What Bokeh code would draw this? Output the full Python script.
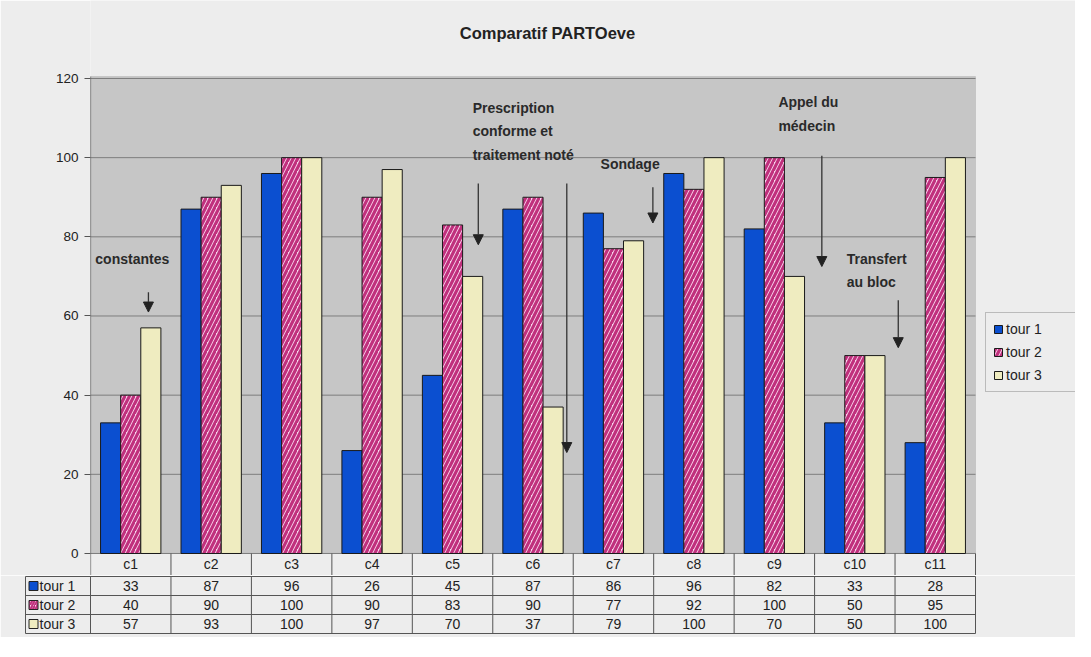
import numpy as np
from bokeh.plotting import figure
from bokeh.models import (Range1d, FixedTicker, BoxAnnotation, Legend, LegendItem,
                          Arrow, NormalHead, ColumnDataSource)
from bokeh.layouts import column
from bokeh.core.properties import value
from bokeh.embed import file_html
from bokeh.resources import INLINE

# ---------------- data ----------------
title_text = "Comparatif PARTOeve"
categories = ["c1", "c2", "c3", "c4", "c5", "c6", "c7", "c8", "c9", "c10", "c11"]
series_names = ["tour 1", "tour 2", "tour 3"]
tour1 = [33, 87, 96, 26, 45, 87, 86, 96, 82, 33, 28]
tour2 = [40, 90, 100, 90, 83, 90, 77, 92, 100, 50, 95]
tour3 = [57, 93, 100, 97, 70, 37, 79, 100, 70, 50, 100]
y_ticks = [0, 20, 40, 60, 80, 100, 120]

# annotations: text, anchor category index (+fraction), value
note_texts = ["constantes", "Prescription\nconforme et\ntraitement noté", "Sondage",
              "Appel du\nmédecin", "Transfert\nau bloc"]
note_x = [0.06, 4.75, 6.34, 8.55, 9.40]
note_y = [76.5, 114.5, 100.5, 116.0, 76.5]
arrow_x = [0.72, 4.82, 5.92, 6.99, 9.09, 10.04]
arrow_y0 = [66.0, 93.5, 93.5, 92.5, 100.5, 64.0]
arrow_y1 = [61.0, 78.0, 25.5, 83.5, 72.5, 52.0]

# ---------------- styles ----------------
PAGE = "#ededed"
PLOT_BG = "#c6c6c6"
BLUE = "#0b4fd0"
PINK_BG = "#f8d8ef"
PINK = "#c0307d"
CREAM = "#efecc0"
FONT = "Liberation Sans"
AX = "#555555"

n = len(categories)
xc = np.arange(n) + 0.5
bw = 0.25
cat_px = 885 / n                      # pixel width of one category
x_end = n + 100 / cat_px              # extra room on the right for the legend
y_lo, y_top_plot = -5.56, 120.5
px_per_unit = 475 / 120
y_hi = 120 + 78 / px_per_unit         # room above the plot area for the title

p = figure(width=1075, height=575, output_backend="svg", toolbar_location=None,
           x_range=Range1d(0, x_end), y_range=Range1d(y_lo, y_hi),
           min_border_left=90, min_border_right=0, min_border_top=0, min_border_bottom=0,
           background_fill_color=PAGE, border_fill_color=PAGE, outline_line_color=None,
           frame_align=False)

p.xaxis.visible = False
p.grid.visible = False
p.yaxis.ticker = FixedTicker(ticks=y_ticks)
p.yaxis.axis_line_color = None
p.yaxis.major_tick_line_color = AX
p.yaxis.major_tick_in = 0
p.yaxis.major_tick_out = 6
p.yaxis.minor_tick_line_color = None
p.yaxis.major_label_text_font = FONT
p.yaxis.major_label_text_font_size = "13.5px"
p.yaxis.major_label_text_color = "#222222"
p.yaxis.major_label_standoff = 6

# plot area and gridlines (only over the categories)
p.add_layout(BoxAnnotation(left=0, right=n, bottom=0, top=y_top_plot, fill_color=PLOT_BG, fill_alpha=1,
                           line_color="#9a9a9a", line_width=1, level="image"))
p.segment(x0=0, y0=y_ticks, x1=n, y1=y_ticks, line_color="#7d7d7d", line_width=1)
p.segment(x0=0, y0=y_lo, x1=0, y1=y_top_plot, line_color=AX, line_width=1.2)   # value axis line

# title
p.text(x=(547 - 90) / cat_px, y=120 + (78 - 33) / px_per_unit, text=[title_text],
       text_align="center", text_baseline="middle", text_font=value(FONT),
       text_font_size="16.5px", text_font_style="bold", text_color="#222222")

src = ColumnDataSource(dict(x1=xc - bw, x2=xc, x3=xc + bw, t1=tour1, t2=tour2, t3=tour3))
r1 = p.vbar(x="x1", top="t1", width=bw, bottom=0, source=src, fill_color=BLUE,
            line_color="#1a1a1a", line_width=1)
r2 = p.vbar(x="x2", top="t2", width=bw, bottom=0, source=src, fill_color=PINK_BG,
            hatch_pattern="right_diagonal_line", hatch_color=PINK, hatch_weight=3.2,
            hatch_scale=9, line_color="#1a1a1a", line_width=1)
r3 = p.vbar(x="x3", top="t3", width=bw, bottom=0, source=src, fill_color=CREAM,
            line_color="#1a1a1a", line_width=1)

# header row of the data table (category names)
p.segment(x0=np.arange(1, n + 1), y0=y_lo, x1=np.arange(1, n + 1), y1=0,
          line_color=AX, line_width=1)
p.text(x=xc, y=y_lo / 2, text=categories, text_align="center", text_baseline="middle",
       text_font=value(FONT), text_font_size="14px", text_color="#222222")

# annotations
p.text(x=note_x, y=note_y, text=note_texts, text_align="left", text_baseline="top",
       text_font=value(FONT), text_font_size="14px", text_font_style="bold",
       text_color="#2a2a2a", text_line_height=1.45)
for xa, ya, yb in zip(arrow_x, arrow_y0, arrow_y1):
    p.add_layout(Arrow(end=NormalHead(size=10, fill_color="#222222", line_color="#222222"),
                       x_start=xa, y_start=ya, x_end=xa, y_end=yb,
                       line_color="#333333", line_width=1.3))

legend = Legend(items=[LegendItem(label=s, renderers=[r]) for s, r in zip(series_names, [r1, r2, r3])],
                location=(895, 183), background_fill_color=PAGE, border_line_color="#8a8a8a",
                label_text_font=FONT, label_text_font_size="14px", label_text_color="#222222",
                glyph_width=10, glyph_height=10, label_height=18, spacing=5, padding=7,
                label_standoff=3, label_width=62, margin=0)
p.add_layout(legend)

# ---------------- table ----------------
left = -65 / cat_px
t = figure(width=1075, height=62, output_backend="svg", toolbar_location=None,
           x_range=Range1d(left, n), y_range=Range1d(0, 3),
           min_border_left=25, min_border_right=100, min_border_top=1, min_border_bottom=4,
           background_fill_color=PAGE, border_fill_color=PAGE,
           outline_line_color=AX, outline_line_width=1, frame_align=False)
t.axis.visible = False
t.grid.visible = False
t.segment(x0=np.arange(0, n), y0=0, x1=np.arange(0, n), y1=3, line_color=AX, line_width=1)
t.segment(x0=left, y0=[1, 2], x1=n, y1=[1, 2], line_color=AX, line_width=1)
rows_y = [2.5, 1.5, 0.5]
for vals, yy in zip([tour1, tour2, tour3], rows_y):
    t.text(x=xc, y=yy, text=[str(v) for v in vals], text_align="center", text_baseline="middle",
           text_font=value(FONT), text_font_size="14px", text_color="#222222")
sw_x = left + 8 / cat_px
t.rect(x=sw_x, y=rows_y[0], width=9, height=9, width_units="screen", height_units="screen",
       fill_color=BLUE, line_color="#222222")
t.rect(x=sw_x, y=rows_y[1], width=9, height=9, width_units="screen", height_units="screen",
       fill_color=PINK_BG, hatch_pattern="right_diagonal_line", hatch_color=PINK, hatch_weight=2,
       hatch_scale=5, line_color="#222222")
t.rect(x=sw_x, y=rows_y[2], width=9, height=9, width_units="screen", height_units="screen",
       fill_color=CREAM, line_color="#222222")
t.text(x=left + 14 / cat_px, y=rows_y, text=series_names, text_align="left", text_baseline="middle",
       text_font=value(FONT), text_font_size="14px", text_color="#222222")

layout = column(p, t, spacing=0)
open("out.html", "w").write(file_html(layout, INLINE))
